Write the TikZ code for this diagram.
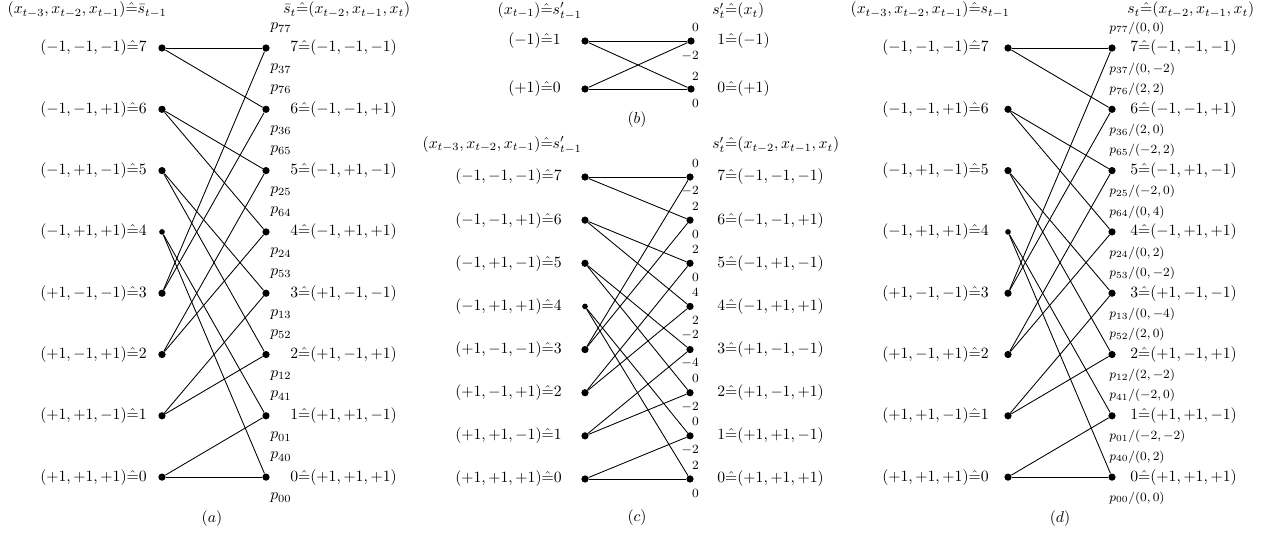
\documentclass[tikz,border=0pt]{standalone}
\begin{document}
\begin{tikzpicture}[x=0.637pt,y=-0.637pt,
  dot/.style={circle,fill=black,inner sep=0pt,minimum size=4.6pt},
  lab/.style={inner sep=0pt},
  num/.style={inner sep=0pt,anchor=east,font=\footnotesize},
  plab/.style={inner sep=0pt,anchor=west},
  pdl/.style={inner sep=0pt,anchor=west,font=\footnotesize},
  trans/.style={line width=0.55pt}]
\useasboundingbox (0,0) rectangle (1271,535);

% ---------- panel (a), (c) and (d) state nodes ----------
\foreach \st/\tup in {7/{-1,-1,-1},6/{-1,-1,+1},5/{-1,+1,-1},4/{-1,+1,+1},3/{+1,-1,-1},2/{+1,-1,+1},1/{+1,+1,-1},0/{+1,+1,+1}}{
  \pgfmathsetmacro\yy{48+(7-\st)*61.3}
  \pgfmathsetmacro\yc{177+(7-\st)*43.14}
  \pgfmathsetmacro\ds{ifthenelse(\st==4,3.6,4.6)}
  % (a)
  \node[dot,minimum size=\ds pt] (aL\st) at (162,\yy) {};
  \node[dot] (aR\st) at (266,\yy) {};
  \node[lab,anchor=east] (aLt\st) at (147,\yy) {$(\tup)\hat{=}\st$};
  \node[lab,anchor=west] (aRt\st) at (290,\yy) {$\st\hat{=}(\tup)$};
  % (c)
  \node[dot,minimum size=\ds pt] (cL\st) at (585,\yc) {};
  \node[dot] (cR\st) at (690,\yc) {};
  \node[lab,anchor=east] (cLt\st) at (562,\yc) {$(\tup)\hat{=}\st$};
  \node[lab,anchor=west] (cRt\st) at (717,\yc) {$\st\hat{=}(\tup)$};
  % (d)
  \node[dot,minimum size=\ds pt] (dL\st) at (1008,\yy) {};
  \node[dot] (dR\st) at (1112,\yy) {};
  \node[lab,anchor=east] (dLt\st) at (989,\yy) {$(\tup)\hat{=}\st$};
  \node[lab,anchor=west] (dRt\st) at (1130,\yy) {$\st\hat{=}(\tup)$};
}

% transitions
\foreach \f/\g in {7/7,7/6,6/5,6/4,5/3,5/2,4/1,4/0,3/7,3/6,2/5,2/4,1/3,1/2,0/1,0/0}{
  \draw[trans] (aL\f) -- (aR\g);
  \draw[trans] (cL\f) -- (cR\g);
  \draw[trans] (dL\f) -- (dR\g);
}

% p labels in (a)
\foreach \st/\pa/\pb in {7/77/37,6/76/36,5/65/25,4/64/24,3/53/13,2/52/12,1/41/01,0/40/00}{
  \pgfmathsetmacro\yy{48+(7-\st)*61.3}
  \node[plab] (aPa\st) at (270,\yy-20) {$p_{\pa}$};
  \node[plab] (aPb\st) at (270,\yy+21) {$p_{\pb}$};
}

% p labels in (d)
\foreach \st/\pa/\va/\pb/\vb in {7/77/{0,0}/37/{0,-2},6/76/{2,2}/36/{2,0},5/65/{-2,2}/25/{-2,0},4/64/{0,4}/24/{0,2},3/53/{0,-2}/13/{0,-4},2/52/{2,0}/12/{2,-2},1/41/{-2,0}/01/{-2,-2},0/40/{0,2}/00/{0,0}}{
  \pgfmathsetmacro\yy{48+(7-\st)*61.3}
  \node[pdl] (dPa\st) at (1109,\yy-20) {$p_{\pa}/(\va)$};
  \node[pdl] (dPb\st) at (1109,\yy+21) {$p_{\pb}/(\vb)$};
}

% numbers in (c)
\foreach \st/\na/\nb in {7/0/-2,6/2/0,5/2/0,4/4/2,3/-2/-4,2/0/-2,1/0/-2,0/2/0}{
  \pgfmathsetmacro\yc{177+(7-\st)*43.14}
  \node[num] (cNa\st) at (699,\yc-14) {$\na$};
  \node[num] (cNb\st) at (699,\yc+14) {$\nb$};
}

% ---------- panel (b) ----------
\node[dot] (bL1) at (585,41) {};
\node[dot] (bL0) at (585,89) {};
\node[dot] (bR1) at (691,41) {};
\node[dot] (bR0) at (691,89) {};
\node[lab,anchor=east] (bLt1) at (561,41) {$(-1)\hat{=}1$};
\node[lab,anchor=east] (bLt0) at (561,89) {$(+1)\hat{=}0$};
\node[lab,anchor=west] (bRt1) at (717,41) {$1\hat{=}(-1)$};
\node[lab,anchor=west] (bRt0) at (717,89) {$0\hat{=}(+1)$};
\draw[trans] (bL1) -- (bR1);
\draw[trans] (bL1) -- (bR0);
\draw[trans] (bL0) -- (bR1);
\draw[trans] (bL0) -- (bR0);
\node[num] (bNa1) at (699,27) {$0$};
\node[num] (bNb1) at (699,56) {$-2$};
\node[num] (bNa0) at (699,76) {$2$};
\node[num] (bNb0) at (699,103) {$0$};

% ---------- headers ----------
\node[lab,anchor=east] (aHL) at (167,10) {$(x_{t-3},x_{t-2},x_{t-1})\hat{=}\bar{s}_{t-1}$};
\node[lab,anchor=west] (aHR) at (283,10) {$\bar{s}_t\hat{=}(x_{t-2},x_{t-1},x_t)$};
\node[lab,anchor=east] (bHL) at (582,11) {$(x_{t-1})\hat{=}s'_{t-1}$};
\node[lab,anchor=west] (bHR) at (712,11) {$s'_t\hat{=}(x_t)$};
\node[lab,anchor=east] (cHL) at (582,145) {$(x_{t-3},x_{t-2},x_{t-1})\hat{=}s'_{t-1}$};
\node[lab,anchor=west] (cHR) at (712,145) {$s'_t\hat{=}(x_{t-2},x_{t-1},x_t)$};
\node[lab,anchor=east] (dHL) at (1010,10) {$(x_{t-3},x_{t-2},x_{t-1})\hat{=}s_{t-1}$};
\node[lab,anchor=west] (dHR) at (1127,10) {$s_t\hat{=}(x_{t-2},x_{t-1},x_t)$};

% ---------- captions ----------
\node[lab] (capA) at (212,519) {$(a)$};
\node[lab] (capB) at (637,120) {$(b)$};
\node[lab] (capC) at (637,518) {$(c)$};
\node[lab] (capD) at (1060,519) {$(d)$};
\end{tikzpicture}
\end{document}
